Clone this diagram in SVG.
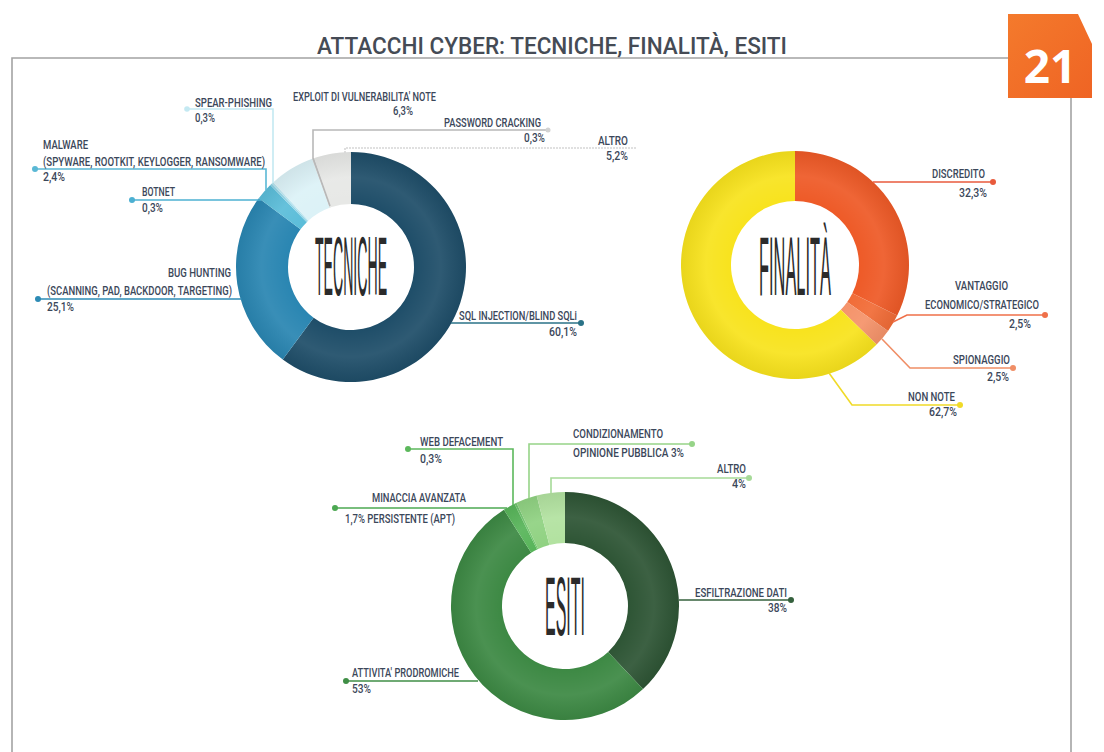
<svg xmlns="http://www.w3.org/2000/svg" width="1104" height="752" viewBox="0 0 1104 752">
<defs>
<style>
.lbl{font-family:Roboto,"Liberation Sans",Arial,sans-serif;font-weight:500;font-size:12px;fill:#3b475a;}
.title{font-family:Roboto,"Liberation Sans",Arial,sans-serif;font-weight:500;font-size:24px;fill:#454b55;}
.ctr{font-family:"Liberation Sans",Arial,sans-serif;font-size:84px;fill:#2b2b2b;}
.frame{fill:none;stroke:#a3a3a3;stroke-width:1.6;}
.ln{fill:none;stroke-width:1.6;}
</style>
<linearGradient id="badgeG" x1="0" y1="0" x2="1" y2="1">
<stop offset="0" stop-color="#f47a2c"/>
<stop offset="1" stop-color="#ef6424"/>
</linearGradient>
<radialGradient id="shade" cx="0.5" cy="0.5" r="0.5">
<stop offset="0.55" stop-color="#fff" stop-opacity="0"/>
<stop offset="0.78" stop-color="#fff" stop-opacity="0.07"/>
<stop offset="1" stop-color="#000" stop-opacity="0.06"/>
</radialGradient>
</defs>
<rect width="1104" height="752" fill="#ffffff"/>

<g id="frame">
<polyline class="frame" points="12,752 12,58 1008,58"/>
<line class="frame" x1="1071" y1="98" x2="1071" y2="752"/>
</g>

<g id="badge">
<polygon points="1008,14 1078,14 1092,44 1092,98 1008,98" fill="url(#badgeG)"/>
<text x="1050" y="83" text-anchor="middle" font-family="'Open Sans','Liberation Sans',sans-serif" font-weight="bold" font-size="46" fill="#ffffff">21</text>
</g>

<text id="title" class="title" x="317" y="54" textLength="470" lengthAdjust="spacingAndGlyphs">ATTACCHI CYBER: TECNICHE, FINALITÀ, ESITI</text>

<!-- TECNICHE donut -->
<g id="donut-tecniche">
<path d="M351,152 A115,115 0 1 1 282.76,359.56 L313.62,317.71 A63,63 0 1 0 351,204 Z" fill="#1f4e69"/>
<path d="M282.76,359.56 A115,115 0 0 1 258.79,198.28 L300.49,229.35 A63,63 0 0 0 313.62,317.71 Z" fill="#2a86b2"/>
<path d="M258.79,198.28 A115,115 0 0 1 270.25,185.12 L306.76,222.14 A63,63 0 0 0 300.49,229.35 Z" fill="#5bbdd9"/>
<path d="M270.25,185.12 A115,115 0 0 1 271.8,183.6 L307.6,221.3 A63,63 0 0 0 306.76,222.14 Z" fill="#8fd3e6"/>
<path d="M271.8,183.6 A115,115 0 0 1 273.31,182.21 L308.44,220.55 A63,63 0 0 0 307.6,221.3 Z" fill="#b8e4ef"/>
<path d="M273.31,182.21 A115,115 0 0 1 312.05,158.8 L329.66,207.72 A63,63 0 0 0 308.44,220.55 Z" fill="#dcf2f7"/>
<path d="M312.05,158.8 A115,115 0 0 1 314.13,158.07 L330.8,207.33 A63,63 0 0 0 329.66,207.72 Z" fill="#d6d8d6"/>
<path d="M314.13,158.07 A115,115 0 0 1 351,152 L351,204 A63,63 0 0 0 330.8,207.33 Z" fill="#e7e8e6"/>
<circle cx="351" cy="267" r="115" fill="url(#shade)"/>
<text class="ctr" transform="translate(351,295) scale(0.168,1)" text-anchor="middle">TECNICHE</text>
</g>

<!-- FINALITA donut -->
<g id="donut-finalita">
<path d="M795,151 A114,114 0 0 1 897.2,315.51 L852.38,293.36 A64,64 0 0 0 795,201 Z" fill="#ee5a27"/>
<path d="M897.2,315.51 A114,114 0 0 1 888.04,330.88 L847.23,301.99 A64,64 0 0 0 852.38,293.36 Z" fill="#f16c37"/>
<path d="M888.04,330.88 A114,114 0 0 1 876.59,344.62 L840.8,309.7 A64,64 0 0 0 847.23,301.99 Z" fill="#f5936a"/>
<path d="M876.59,344.62 A114,114 0 1 1 795,151 L795,201 A64,64 0 1 0 840.8,309.7 Z" fill="#f8e31d"/>
<circle cx="795" cy="265" r="114" fill="url(#shade)"/>
<text class="ctr" transform="translate(795,295) scale(0.195,1)" text-anchor="middle">FINALITÀ</text>
</g>

<!-- ESITI donut -->
<g id="donut-esiti">
<path d="M565,492 A114,114 0 0 1 643.03,689.11 L608.12,651.93 A63,63 0 0 0 565,543 Z" fill="#2e5535"/>
<path d="M643.03,689.11 A114,114 0 1 1 503.92,509.75 L531.24,552.81 A63,63 0 1 0 608.12,651.93 Z" fill="#3d8944"/>
<path d="M503.92,509.75 A114,114 0 0 1 514.49,503.8 L537.08,549.52 A63,63 0 0 0 531.24,552.81 Z" fill="#58b55a"/>
<path d="M514.49,503.8 A114,114 0 0 1 516.46,502.85 L538.17,549 A63,63 0 0 0 537.08,549.52 Z" fill="#6fc46c"/>
<path d="M516.46,502.85 A114,114 0 0 1 536.65,495.58 L549.33,544.98 A63,63 0 0 0 538.17,549 Z" fill="#90d282"/>
<path d="M536.65,495.58 A114,114 0 0 1 565,492 L565,543 A63,63 0 0 0 549.33,544.98 Z" fill="#b2e2a0"/>
<circle cx="565" cy="606" r="114" fill="url(#shade)"/>
<text class="ctr" transform="translate(565,635) scale(0.19,1)" text-anchor="middle">ESITI</text>
</g>

<!-- connectors -->
<g id="connectors">
<polyline class="ln" stroke="#c4e9f2" points="187,109 273,109 273,183"/>
<circle cx="187" cy="109" r="2.8" fill="#c4e9f2"/>
<polyline class="ln" stroke="#5ab8d5" points="35,169 266,169 266,190"/>
<circle cx="35" cy="169" r="3" fill="#5ab8d5"/>
<polyline class="ln" stroke="#4cb0d2" points="132,200 261,200"/>
<circle cx="132" cy="200" r="3" fill="#4cb0d2"/>
<polyline class="ln" stroke="#b8b8b8" stroke-width="1.2" points="548,130 313,130 313,158 330,206"/>
<circle cx="548" cy="130" r="2.5" fill="#d2d2d2"/>
<polyline class="ln" stroke="#d6d6d6" stroke-width="1.2" stroke-dasharray="2 1" points="636,148 345,148 345,153"/>
<polyline class="ln" stroke="#2d8bb5" points="38,299 242,299"/>
<circle cx="38" cy="299" r="3" fill="#2d8bb5"/>
<polyline class="ln" stroke="#2a7287" points="451,323 581,323"/>
<circle cx="581" cy="323" r="3" fill="#2a7287"/>

<polyline class="ln" stroke="#e85a3c" points="873,182 993,182"/>
<circle cx="993" cy="182" r="3" fill="#e85a3c"/>
<polyline class="ln" stroke="#ef7049" points="893,322 907,315 1045,315"/>
<circle cx="1045" cy="315" r="3" fill="#ef7049"/>
<polyline class="ln" stroke="#f08e66" points="882,339 910,368 1013,368"/>
<circle cx="1013" cy="368" r="3" fill="#f08e66"/>
<polyline class="ln" stroke="#f0da28" points="829,373 852,405 960,405"/>
<circle cx="960" cy="405" r="3" fill="#f0da28"/>

<polyline class="ln" stroke="#5cb85c" points="408,449 513,449 513,505"/>
<circle cx="408" cy="449" r="3" fill="#5cb85c"/>
<polyline class="ln" stroke="#96d488" points="692,444 529,444 529,498"/>
<circle cx="692" cy="444" r="3" fill="#96d488"/>
<polyline class="ln" stroke="#a6da98" points="749,478 551,478 551,493"/>
<circle cx="749" cy="478" r="3" fill="#a6da98"/>
<polyline class="ln" stroke="#4ca852" points="335,508 507,508"/>
<circle cx="335" cy="508" r="3" fill="#4ca852"/>
<polyline class="ln" stroke="#35613d" points="679,600 791,600"/>
<circle cx="791" cy="600" r="3" fill="#35613d"/>
<polyline class="ln" stroke="#3f8e46" points="346,681 478,681"/>
<circle cx="346" cy="681" r="3" fill="#3f8e46"/>
</g>

<!-- labels -->
<g id="label-spear">
<text class="lbl" x="195" y="107" textLength="77" lengthAdjust="spacingAndGlyphs">SPEAR-PHISHING</text>
<text class="lbl" x="195" y="122" textLength="20" lengthAdjust="spacingAndGlyphs">0,3%</text>
</g>
<g id="label-exploit">
<text class="lbl" x="293" y="101" textLength="143" lengthAdjust="spacingAndGlyphs">EXPLOIT DI VULNERABILITA' NOTE</text>
<text class="lbl" x="413" y="115" text-anchor="end" textLength="20" lengthAdjust="spacingAndGlyphs">6,3%</text>
</g>
<g id="label-password">
<text class="lbl" x="444" y="127" textLength="97" lengthAdjust="spacingAndGlyphs">PASSWORD CRACKING</text>
<text class="lbl" x="545" y="142" text-anchor="end" textLength="21" lengthAdjust="spacingAndGlyphs">0,3%</text>
</g>
<g id="label-altro-t">
<text class="lbl" x="598" y="145" textLength="30" lengthAdjust="spacingAndGlyphs">ALTRO</text>
<text class="lbl" x="628" y="160" text-anchor="end" textLength="22" lengthAdjust="spacingAndGlyphs">5,2%</text>
</g>
<g id="label-malware">
<text class="lbl" x="43" y="149" textLength="45" lengthAdjust="spacingAndGlyphs">MALWARE</text>
<text class="lbl" x="43" y="166" textLength="222" lengthAdjust="spacingAndGlyphs">(SPYWARE, ROOTKIT, KEYLOGGER, RANSOMWARE)</text>
<text class="lbl" x="43" y="181" textLength="22" lengthAdjust="spacingAndGlyphs">2,4%</text>
</g>
<g id="label-botnet">
<text class="lbl" x="142" y="196" textLength="33" lengthAdjust="spacingAndGlyphs">BOTNET</text>
<text class="lbl" x="142" y="212" textLength="21" lengthAdjust="spacingAndGlyphs">0,3%</text>
</g>
<g id="label-bug">
<text class="lbl" x="231" y="277" text-anchor="end" textLength="63" lengthAdjust="spacingAndGlyphs">BUG HUNTING</text>
<text class="lbl" x="47" y="295" textLength="185" lengthAdjust="spacingAndGlyphs">(SCANNING, PAD, BACKDOOR, TARGETING)</text>
<text class="lbl" x="47" y="311" textLength="27" lengthAdjust="spacingAndGlyphs">25,1%</text>
</g>
<g id="label-sql">
<text class="lbl" x="459" y="320" textLength="118" lengthAdjust="spacingAndGlyphs">SQL INJECTION/BLIND SQLi</text>
<text class="lbl" x="577" y="336" text-anchor="end" textLength="28" lengthAdjust="spacingAndGlyphs">60,1%</text>
</g>

<g id="label-discredito">
<text class="lbl" x="932" y="178" textLength="53" lengthAdjust="spacingAndGlyphs">DISCREDITO</text>
<text class="lbl" x="987" y="197" text-anchor="end" textLength="28" lengthAdjust="spacingAndGlyphs">32,3%</text>
</g>
<g id="label-vantaggio">
<text class="lbl" x="955" y="290" textLength="53" lengthAdjust="spacingAndGlyphs">VANTAGGIO</text>
<text class="lbl" x="925" y="309" textLength="114" lengthAdjust="spacingAndGlyphs">ECONOMICO/STRATEGICO</text>
<text class="lbl" x="1031" y="328" text-anchor="end" textLength="22" lengthAdjust="spacingAndGlyphs">2,5%</text>
</g>
<g id="label-spionaggio">
<text class="lbl" x="953" y="364" textLength="57" lengthAdjust="spacingAndGlyphs">SPIONAGGIO</text>
<text class="lbl" x="1009" y="381" text-anchor="end" textLength="22" lengthAdjust="spacingAndGlyphs">2,5%</text>
</g>
<g id="label-nonnote">
<text class="lbl" x="908" y="401" textLength="47" lengthAdjust="spacingAndGlyphs">NON NOTE</text>
<text class="lbl" x="957" y="416" text-anchor="end" textLength="28" lengthAdjust="spacingAndGlyphs">62,7%</text>
</g>

<g id="label-web">
<text class="lbl" x="420" y="446" textLength="83" lengthAdjust="spacingAndGlyphs">WEB DEFACEMENT</text>
<text class="lbl" x="420" y="463" textLength="22" lengthAdjust="spacingAndGlyphs">0,3%</text>
</g>
<g id="label-condizionamento">
<text class="lbl" x="573" y="438" textLength="90" lengthAdjust="spacingAndGlyphs">CONDIZIONAMENTO</text>
<text class="lbl" x="573" y="457" textLength="111" lengthAdjust="spacingAndGlyphs">OPINIONE PUBBLICA 3%</text>
</g>
<g id="label-altro-e">
<text class="lbl" x="717" y="473" textLength="29" lengthAdjust="spacingAndGlyphs">ALTRO</text>
<text class="lbl" x="746" y="488" text-anchor="end" textLength="14" lengthAdjust="spacingAndGlyphs">4%</text>
</g>
<g id="label-minaccia">
<text class="lbl" x="372" y="502" textLength="94" lengthAdjust="spacingAndGlyphs">MINACCIA AVANZATA</text>
<text class="lbl" x="345" y="523" textLength="110" lengthAdjust="spacingAndGlyphs">1,7% PERSISTENTE (APT)</text>
</g>
<g id="label-esfiltrazione">
<text class="lbl" x="695" y="597" textLength="92" lengthAdjust="spacingAndGlyphs">ESFILTRAZIONE DATI</text>
<text class="lbl" x="787" y="612" text-anchor="end" textLength="19" lengthAdjust="spacingAndGlyphs">38%</text>
</g>
<g id="label-attivita">
<text class="lbl" x="352" y="677" textLength="107" lengthAdjust="spacingAndGlyphs">ATTIVITA' PRODROMICHE</text>
<text class="lbl" x="352" y="693" textLength="19" lengthAdjust="spacingAndGlyphs">53%</text>
</g>
</svg>
